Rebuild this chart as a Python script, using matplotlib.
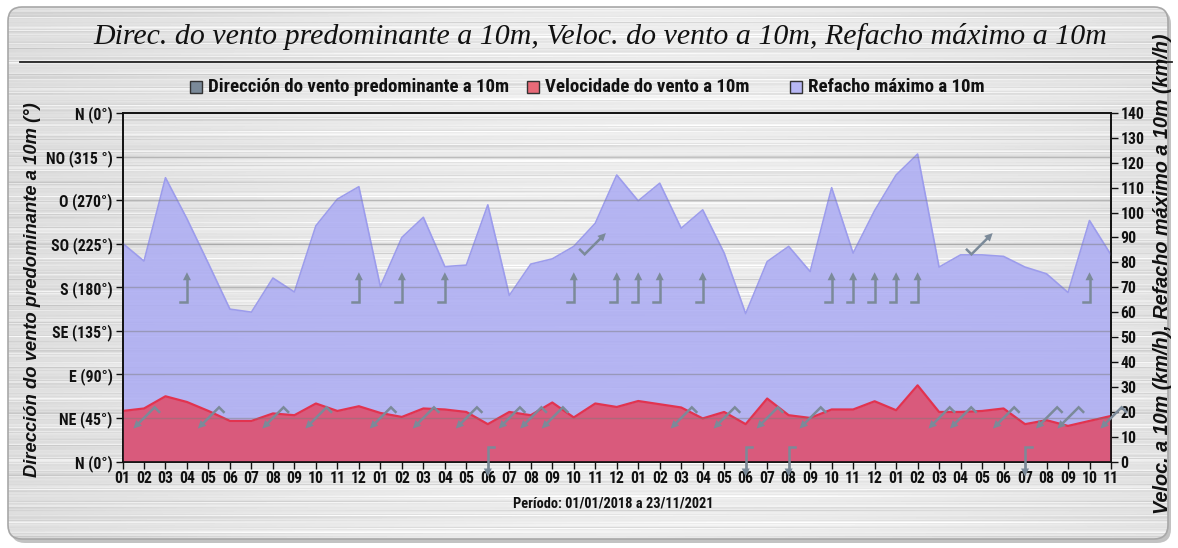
import numpy as np
import matplotlib
matplotlib.use('Agg')
import matplotlib.pyplot as plt
from matplotlib.patches import FancyBboxPatch, Rectangle
from matplotlib import transforms as mtrans
from matplotlib import font_manager as fm

# ---------------- data ----------------
months = ['01', '02', '03', '04', '05', '06', '07', '08', '09', '10', '11', '12',
          '01', '02', '03', '04', '05', '06', '07', '08', '09', '10', '11', '12',
          '01', '02', '03', '04', '05', '06', '07', '08', '09', '10', '11', '12',
          '01', '02', '03', '04', '05', '06', '07', '08', '09', '10', '11']

# Refacho máximo a 10m (km/h)
gust = [87.7, 80.5, 114.0, 97.5, 79.5, 61.2, 60.0, 73.7, 68.1, 94.7, 105.4, 110.4,
        70.3, 90.0, 98.1, 78.3, 78.9, 103.1, 66.7, 79.3, 81.4, 86.4, 95.7, 115.1,
        104.7, 111.8, 93.7, 101.1, 83.7, 59.4, 80.3, 86.4, 76.3, 110.0, 83.7, 100.8,
        115.1, 123.5, 78.1, 83.0, 83.0, 82.4, 78.1, 75.4, 67.9, 96.8, 83.0]

# Velocidade do vento a 10m (km/h)
speed = [20.3, 21.3, 26.2, 23.9, 20.3, 16.3, 16.3, 19.3, 18.6, 23.3, 20.3, 22.2,
         19.5, 17.9, 21.3, 20.9, 19.9, 15.0, 19.9, 18.6, 23.7, 17.7, 23.3, 21.9,
         24.3, 23.0, 21.7, 17.3, 19.9, 15.0, 25.3, 18.6, 17.5, 20.9, 20.9, 24.2,
         20.6, 30.6, 19.9, 19.9, 20.3, 21.3, 15.0, 16.6, 14.3, 16.3, 18.3]

# Dirección do vento predominante a 10m (degrees, None = no value)
direction = [None, 45, None, 180, 45, None, None, 45, None, 45, None, 180,
             45, 180, 45, 180, 45, 0, 45, 45, 45, 180, 225, 180,
             180, 180, 45, 180, 45, 0, 45, 0, 45, 180, 180, 180,
             180, 180, 45, 45, 225, 45, 0, 45, 45, 180, 45]

dir_ticks = [0, 45, 90, 135, 180, 225, 270, 315, 360]
dir_labels = ['N (0°)', 'NE (45°)', 'E (90°)', 'SE (135°)', 'S (180°)',
              'SO (225°)', 'O (270°)', 'NO (315 °)', 'N (0°)']
speed_ticks = list(range(0, 141, 10))

# ---------------- style ----------------
W, H = 1178, 548
SANS = ['Liberation Sans', 'DejaVu Sans']
SERIF = ['Liberation Serif', 'DejaVu Serif']

# pick a condensed face if one is installed
_names = {f.name for f in fm.fontManager.ttflist}
if 'Liberation Sans Narrow' in _names:
    NARROW = dict(family=['Liberation Sans Narrow', 'DejaVu Sans'])
    NSCALE = 1.0
elif 'Roboto Condensed' in _names:
    NARROW = dict(family=['Roboto Condensed', 'DejaVu Sans'])
    NSCALE = 1.0
elif any(f.name == 'DejaVu Sans' and str(f.stretch) != 'normal' for f in fm.fontManager.ttflist):
    NARROW = dict(family=['DejaVu Sans'], stretch='condensed')
    NSCALE = 0.95
else:
    NARROW = dict(family=['Roboto', 'DejaVu Sans'])
    NSCALE = 0.9

C_GUST = '#adadf3'
C_GUST_EDGE = '#9c9cec'
C_SPEED = '#dc5576'
C_SPEED_EDGE = '#e2334f'
C_DIR = '#7b8a99'

fig = plt.figure(figsize=(W / 100, H / 100), dpi=100)
fig.patch.set_facecolor('white')


def fx(px):
    return px / W


def fy(py):
    return 1 - py / H


# ---------------- background (brushed metal panel) ----------------
ax_bg = fig.add_axes([0, 0, 1, 1], zorder=-10)
ax_bg.set_xlim(0, W)
ax_bg.set_ylim(H, 0)
ax_bg.axis('off')
yy = np.arange(H)[:, None].astype(float)
xx = np.arange(W)[None, :].astype(float)
band = (0.045 * np.sin(yy * 1.93) + 0.035 * np.sin(yy * 0.71 + 1.3)
        + 0.03 * np.sin(yy * 3.37 + 0.4) + 0.02 * np.sin(yy * 0.19 + 2.0))
mod = 0.55 + 0.45 * np.cos(xx * 0.0065 + yy * 0.41)
tex = 0.875 + band * mod + 0.05 * np.cos((xx - W * 0.55) / W * np.pi)
tex = np.clip(tex, 0, 1)
shadow = FancyBboxPatch((11, 10), 1160, 533, boxstyle='round,pad=0,rounding_size=14',
                        fc='#9a9a9a', ec='none', zorder=0.5, alpha=0.6)
ax_bg.add_patch(shadow)
im = ax_bg.imshow(tex, extent=(0, W, H, 0), cmap='gray', vmin=0, vmax=1,
                  zorder=1, aspect='auto', interpolation='bilinear')
frame = FancyBboxPatch((8, 7), 1160, 532, boxstyle='round,pad=0,rounding_size=14',
                       fc='none', ec='#a8a8a8', lw=1.2, zorder=2)
ax_bg.add_patch(frame)
im.set_clip_path(frame)

# title and separator line
fig.text(fx(600), fy(37), 'Direc. do vento predominante a 10m, Veloc. do vento a 10m, '
         'Refacho máximo a 10m', ha='center', va='center', fontsize=21.5,
         family=SERIF, style='italic', color='#111111')
ax_bg.plot([20, 1172], [62, 62], color='#222222', lw=1.3, zorder=3)

# legend
legend_items = [(190, C_DIR, 'Dirección do vento predominante a 10m'),
                (527, '#e86a78', 'Velocidade do vento a 10m'),
                (790, '#b8b8f4', 'Refacho máximo a 10m')]
for x0, col, lab in legend_items:
    ax_bg.add_patch(Rectangle((x0, 81), 12, 12, fc=col, ec='#333333', lw=1, zorder=3))
    fig.text(fx(x0 + 18), fy(87.5), lab, ha='left', va='center', fontsize=13.6 * NSCALE,
             fontweight='bold', color='#111111', **NARROW)

# ---------------- main axes ----------------
rect = [fx(122.5), fy(461.5), fx(1111) - fx(122.5), fy(113) - fy(461.5)]
ax = fig.add_axes(rect)
ax.patch.set_alpha(0)
x = np.arange(len(months))
ax.fill_between(x, 0, gust, color=C_GUST, alpha=0.88, lw=0, zorder=2)
ax.plot(x, gust, color=C_GUST_EDGE, lw=1.2, zorder=3)
ax.fill_between(x, 0, speed, color=C_SPEED, alpha=0.95, lw=0, zorder=4)
ax.plot(x, speed, color=C_SPEED_EDGE, lw=1.6, zorder=5)
ax.set_xlim(0, len(months) - 1)
ax.set_ylim(0, 140)

# direction axis (left)
axd = ax.twinx()
axd.patch.set_alpha(0)
axd.set_ylim(0, 360)
axd.yaxis.tick_left()
axd.yaxis.set_label_position('left')
axd.set_yticks(dir_ticks)
axd.set_yticklabels(dir_labels)

ax.yaxis.tick_right()
ax.yaxis.set_label_position('right')
ax.set_yticks(speed_ticks)
ax.set_yticklabels([str(v) for v in speed_ticks])
ax.set_xticks(x)
ax.set_xticklabels(months)

for lab in ax.get_xticklabels() + ax.get_yticklabels() + axd.get_yticklabels():
    lab.set_fontproperties(fm.FontProperties(weight='bold', size=11.3 * NSCALE,
                                             family=NARROW['family'],
                                             stretch=NARROW.get('stretch', 'normal')))
    lab.set_color('#111111')
ax.tick_params(axis='both', direction='out', length=5, width=1, color='#111111', pad=2)
axd.tick_params(axis='y', direction='out', length=5, width=1, color='#111111', pad=2)
for d in dir_ticks[1:-1]:
    axd.axhline(d, color='#7a7a7a', lw=1.0, alpha=0.45, zorder=1)
for a in (ax, axd):
    for s in a.spines.values():
        s.set_color('#111111')
        s.set_linewidth(1.2)

# direction glyphs (arrow + bent tail), drawn at (month, direction)
L = 0.30   # inches
B = 0.065
HL, HW = 0.08, 0.04
for i, d in enumerate(direction):
    if d is None:
        continue
    ang = np.deg2rad(90 - (d + 180))
    u = np.array([np.cos(ang), np.sin(ang)])
    nrm = np.array([-u[1], u[0]])
    head = u * L / 2
    tail = -u * L / 2
    bend = tail + nrm * B
    tr = fig.dpi_scale_trans + mtrans.ScaledTranslation(i, d, axd.transData)
    base = head - u * HL
    axd.plot([bend[0], tail[0], base[0]], [bend[1], tail[1], base[1]],
             color=C_DIR, lw=1.8, transform=tr, clip_on=False, zorder=8,
             solid_joinstyle='miter')
    tri = np.array([head, base + nrm * HW, base - nrm * HW])
    axd.fill(tri[:, 0], tri[:, 1], color=C_DIR, transform=tr, clip_on=False,
             zorder=8, lw=0)

# axis labels
fig.text(fx(33), fy(290), 'Dirección do vento predominante a 10m (°)', rotation=90,
         ha='center', va='center', fontsize=13.2, family=SANS, fontweight='bold',
         style='italic', color='#111111')
fig.text(fx(1163), fy(274), 'Veloc. a 10m (km/h), Refacho máximo a 10m (km/h)',
         rotation=90, ha='center', va='center', fontsize=14.3, family=SANS,
         fontweight='bold', style='italic', color='#111111')
fig.text(fx(613), fy(503), 'Período: 01/01/2018 a 23/11/2021', ha='center', va='center',
         fontsize=10.4 * NSCALE, fontweight='bold', color='#111111', **NARROW)

fig.savefig('out.png', dpi=100)
